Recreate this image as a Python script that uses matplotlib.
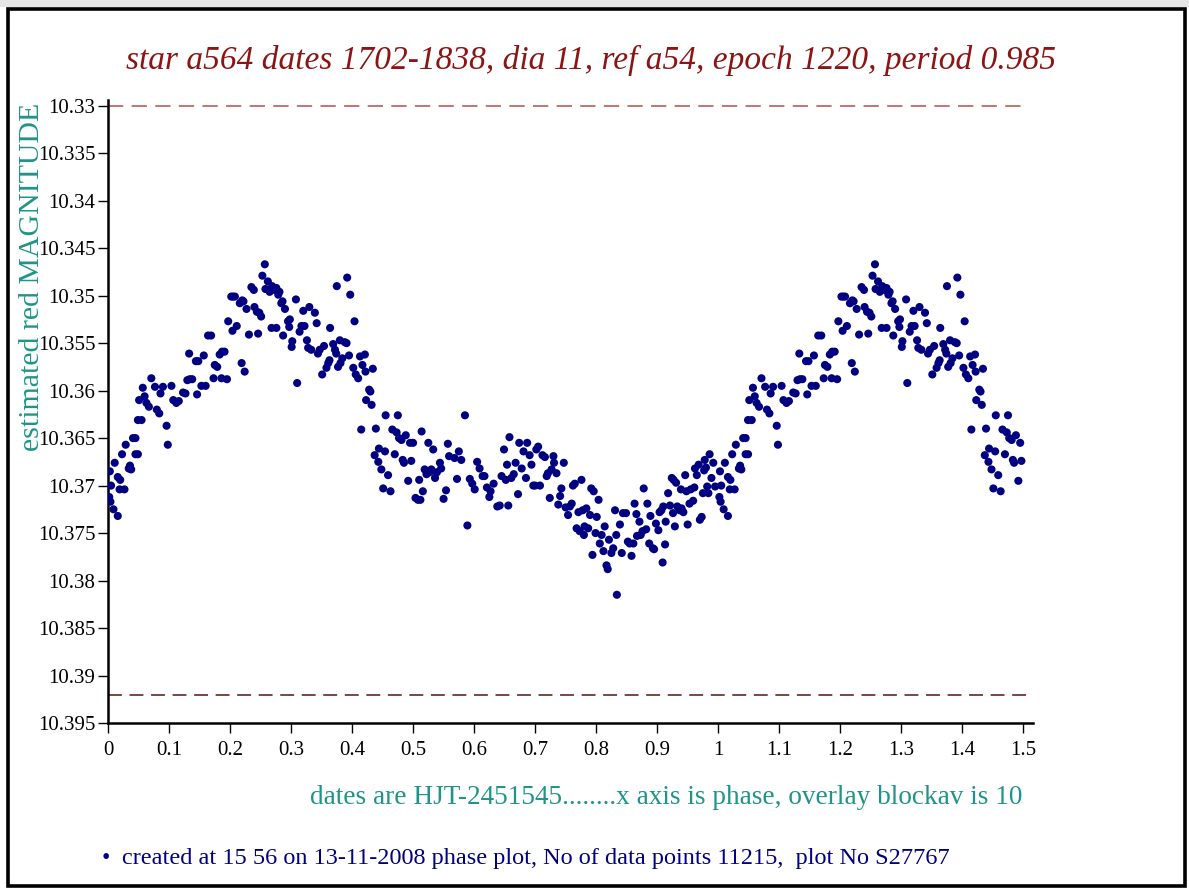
import matplotlib
matplotlib.use('Agg')
import matplotlib.pyplot as plt
from matplotlib.patches import Rectangle
import numpy as np

plt.rcParams['font.family'] = ['Liberation Serif', 'DejaVu Serif']
plt.rcParams['lines.scale_dashes'] = False

# phase / magnitude readings for one cycle (0..1)
phase = [
    0.002, 0.004, 0.009, 0.016, 0.005, 0.003, 0.011, 0.016, 0.020, 0.019, 0.027, 0.023, 0.029, 0.034,
    0.038, 0.036, 0.041, 0.045, 0.045, 0.049, 0.049, 0.055, 0.051, 0.057, 0.060, 0.063, 0.067, 0.071,
    0.077, 0.080, 0.084, 0.086, 0.090, 0.096, 0.098, 0.104, 0.107, 0.112, 0.116, 0.123, 0.127, 0.130,
    0.134, 0.138, 0.133, 0.144, 0.148, 0.146, 0.153, 0.157, 0.160, 0.164, 0.169, 0.175, 0.179, 0.173,
    0.183, 0.187, 0.191, 0.186, 0.195, 0.197, 0.202, 0.205, 0.208, 0.204, 0.211, 0.216, 0.220, 0.222,
    0.227, 0.219, 0.224, 0.231, 0.235, 0.239, 0.240, 0.244, 0.248, 0.246, 0.251, 0.253, 0.257, 0.258,
    0.262, 0.265, 0.269, 0.273, 0.276, 0.279, 0.281, 0.284, 0.286, 0.290, 0.268, 0.276, 0.287, 0.295,
    0.298, 0.297, 0.302, 0.301, 0.308, 0.310, 0.314, 0.317, 0.320, 0.322, 0.330, 0.326, 0.328, 0.333,
    0.339, 0.342, 0.344, 0.347, 0.351, 0.354, 0.358, 0.361, 0.363, 0.364, 0.369, 0.372, 0.374, 0.375,
    0.377, 0.380, 0.381, 0.384, 0.388, 0.391, 0.392, 0.395, 0.397, 0.402, 0.404, 0.406, 0.410, 0.413,
    0.415, 0.417, 0.421, 0.422, 0.423, 0.428, 0.432, 0.430, 0.434, 0.437, 0.439, 0.443, 0.444, 0.448,
    0.451, 0.454, 0.455, 0.459, 0.463, 0.466, 0.470, 0.473, 0.475, 0.477, 0.481, 0.483, 0.485, 0.488,
    0.492, 0.495, 0.497, 0.500, 0.504, 0.508, 0.510, 0.512, 0.514, 0.516, 0.519, 0.522, 0.525, 0.527,
    0.530, 0.533, 0.536, 0.539, 0.544, 0.546, 0.550, 0.554, 0.557, 0.559,
    0.568, 0.572, 0.575, 0.579, 0.585, 0.589, 0.593, 0.597, 0.601, 0.605, 0.609, 0.614, 0.617, 0.621,
    0.625, 0.627, 0.632, 0.638, 0.642, 0.645, 0.649, 0.652, 0.654, 0.656, 0.658, 0.661, 0.665, 0.668,
    0.672, 0.674, 0.678, 0.681, 0.685, 0.687, 0.691, 0.694, 0.697, 0.700, 0.702, 0.705, 0.708, 0.712,
    0.716, 0.719, 0.721, 0.724, 0.727, 0.730, 0.731, 0.735, 0.738, 0.741, 0.743, 0.747, 0.750, 0.754,
    0.757, 0.760, 0.762, 0.765, 0.768, 0.771, 0.773, 0.776, 0.778, 0.780, 0.781, 0.784, 0.787, 0.790,
    0.792, 0.794, 0.796, 0.799, 0.801, 0.804, 0.806, 0.809, 0.812, 0.814, 0.817, 0.819, 0.821, 0.825,
    0.828, 0.831, 0.833, 0.834, 0.839, 0.842, 0.844, 0.849, 0.852, 0.855, 0.858, 0.861, 0.863, 0.866,
    0.867, 0.871, 0.873, 0.876, 0.878, 0.882, 0.884, 0.887, 0.889, 0.893, 0.895, 0.898, 0.902, 0.904,
    0.907, 0.909, 0.910, 0.913, 0.914, 0.918, 0.921, 0.924, 0.926, 0.927, 0.929, 0.931, 0.933, 0.937,
    0.939, 0.940, 0.943, 0.946, 0.948, 0.950, 0.953, 0.955, 0.959, 0.961, 0.962, 0.965, 0.968, 0.970,
    0.973, 0.975, 0.977, 0.978, 0.980, 0.982, 0.984, 0.986, 0.989, 0.992, 0.995,
]
magnitude = [
    10.3712, 10.3717, 10.3725, 10.3732, 10.3700, 10.3685, 10.3676, 10.3691, 10.3694, 10.3704, 10.3704, 10.3667, 10.3657, 10.3682,
    10.3683, 10.3679, 10.3650, 10.3650, 10.3667, 10.3667, 10.3631, 10.3631, 10.3610, 10.3597, 10.3606, 10.3613, 10.3617, 10.3587,
    10.3596, 10.3620, 10.3624, 10.3603, 10.3596, 10.3637, 10.3657, 10.3595, 10.3610, 10.3613, 10.3611, 10.3602, 10.3603, 10.3589,
    10.3588, 10.3588, 10.3561, 10.3569, 10.3569, 10.3604, 10.3595, 10.3563, 10.3595, 10.3542, 10.3542, 10.3573, 10.3575, 10.3587,
    10.3562, 10.3559, 10.3559, 10.3587, 10.3588, 10.3527, 10.3501, 10.3501, 10.3501, 10.3537, 10.3532, 10.3508, 10.3505, 10.3506,
    10.3514, 10.3571, 10.3580, 10.3541, 10.3491, 10.3494, 10.3512, 10.3517, 10.3518, 10.3540, 10.3522, 10.3479, 10.3467, 10.3493,
    10.3485, 10.3496, 10.3490, 10.3494, 10.3492, 10.3499, 10.3496, 10.3508, 10.3506, 10.3514, 10.3534, 10.3534, 10.3542, 10.3527,
    10.3525, 10.3533, 10.3548, 10.3554, 10.3504, 10.3592, 10.3538, 10.3532, 10.3516, 10.3532, 10.3512, 10.3547, 10.3555, 10.3557,
    10.3518, 10.3529, 10.3561, 10.3557, 10.3583, 10.3553, 10.3576, 10.3571, 10.3568, 10.3534, 10.3551, 10.3557, 10.3561, 10.3490,
    10.3575, 10.3547, 10.3571, 10.3566, 10.3549, 10.3550, 10.3481, 10.3563, 10.3499, 10.3576, 10.3527, 10.3583, 10.3587, 10.3564,
    10.3641, 10.3573, 10.3562, 10.3580, 10.3610, 10.3599, 10.3615, 10.3601, 10.3577, 10.3668, 10.3640, 10.3675, 10.3661, 10.3683,
    10.3703, 10.3664, 10.3626, 10.3689, 10.3706, 10.3641, 10.3667, 10.3644, 10.3626, 10.3650, 10.3652, 10.3673, 10.3676, 10.3647,
    10.3695, 10.3655, 10.3674, 10.3655, 10.3713, 10.3715, 10.3694, 10.3715, 10.3643, 10.3706, 10.3683, 10.3688, 10.3655, 10.3686,
    10.3683, 10.3662, 10.3692, 10.3686, 10.3676, 10.3682, 10.3714, 10.3705, 10.3656, 10.3669,
    10.3671, 10.3693, 10.3664, 10.3673, 10.3626, 10.3742, 10.3693, 10.3698, 10.3704, 10.3675, 10.3682, 10.3690, 10.3690, 10.3702,
    10.3712, 10.3706, 10.3698, 10.3722, 10.3721, 10.3690, 10.3662, 10.3694, 10.3678, 10.3721, 10.3649, 10.3692, 10.3688, 10.3676,
    10.3709, 10.3655, 10.3682, 10.3664, 10.3692, 10.3655, 10.3668, 10.3678, 10.3700, 10.3700, 10.3662, 10.3659, 10.3700, 10.3668,
    10.3670, 10.3690, 10.3687, 10.3713, 10.3683, 10.3669, 10.3676, 10.3687, 10.3720, 10.3711, 10.3703, 10.3676, 10.3723, 10.3731,
    10.3722, 10.3719, 10.3700, 10.3698, 10.3745, 10.3728, 10.3748, 10.3694, 10.3726, 10.3752, 10.3743, 10.3724, 10.3745, 10.3731,
    10.3703, 10.3773, 10.3706, 10.3750, 10.3733, 10.3715, 10.3761, 10.3752, 10.3769, 10.3743, 10.3784, 10.3788, 10.3757, 10.3771,
    10.3766, 10.3726, 10.3752, 10.3815, 10.3741, 10.3771, 10.3729, 10.3729, 10.3759, 10.3761, 10.3774, 10.3761, 10.3719, 10.3730,
    10.3753, 10.3738, 10.3752, 10.3748, 10.3703, 10.3746, 10.3719, 10.3761, 10.3732, 10.3766, 10.3767, 10.3740, 10.3747, 10.3728,
    10.3726, 10.3781, 10.3722, 10.3762, 10.3738, 10.3708, 10.3721, 10.3692, 10.3729, 10.3694, 10.3743, 10.3697, 10.3722, 10.3726,
    10.3704, 10.3724, 10.3728, 10.3689, 10.3706, 10.3741, 10.3719, 10.3704, 10.3716, 10.3702, 10.3682, 10.3689, 10.3678, 10.3736,
    10.3733, 10.3708, 10.3684, 10.3673, 10.3681, 10.3701, 10.3708, 10.3667, 10.3692, 10.3676, 10.3701,
]

upper_limit = 10.33
lower_limit = 10.392

x_ticks = [0, 0.1, 0.2, 0.3, 0.4, 0.5, 0.6, 0.7, 0.8, 0.9, 1.0, 1.1, 1.2, 1.3, 1.4, 1.5]
x_tick_labels = ['0', '0.1', '0.2', '0.3', '0.4', '0.5', '0.6', '0.7', '0.8', '0.9',
                 '1', '1.1', '1.2', '1.3', '1.4', '1.5']
y_ticks = [10.33, 10.335, 10.34, 10.345, 10.35, 10.355, 10.36, 10.365, 10.37,
           10.375, 10.38, 10.385, 10.39, 10.395]
y_tick_labels = ['10.33', '10.335', '10.34', '10.345', '10.35', '10.355', '10.36', '10.365',
                 '10.37', '10.375', '10.38', '10.385', '10.39', '10.395']

title = 'star a564 dates 1702-1838, dia 11, ref a54, epoch 1220, period 0.985'
ylabel = 'estimated red MAGNITUDE'
xlabel = 'dates are HJT-2451545........x axis is phase, overlay blockav is 10'
footer = 'created at 15 56 on 13-11-2008 phase plot, No of data points 11215,  plot No S27767'

# phase plot shows 1.5 cycles: repeat the first half cycle
phase = np.array(phase)
magnitude = np.array(magnitude)
rep = phase < 0.5
px = np.concatenate([phase, phase[rep] + 1])
py = np.concatenate([magnitude, magnitude[rep]])

W, H = 1189, 888
fig = plt.figure(figsize=(W / 100, H / 100), dpi=100)
ax = fig.add_axes([108 / W, 1 - 723 / H, (1033 - 108) / W, (723 - 100) / H])

navy = '#000080'
teal = '#1f9488'
red = '#8b1414'

ax.scatter(px, py, s=34, color=navy, edgecolors='none', zorder=3)

ax.hlines(upper_limit, 0, 1.5, color='#c06868', lw=1.3, linestyles=(0, (11, 6)))
ax.hlines(lower_limit, 0, 1.514, color='#5a1414', lw=1.1, linestyles=(0, (10, 5.5)))

ax.set_xlim(0, 1.516)
ax.set_ylim(10.395, 10.3294)
ax.set_xticks(x_ticks)
ax.set_xticklabels(x_tick_labels)
ax.set_yticks(y_ticks)
ax.set_yticklabels(y_tick_labels)
ax.tick_params(direction='out', length=7, width=1, labelsize=15, colors='black')
ax.tick_params(axis='y', pad=2)
ax.tick_params(axis='x', pad=6)
for s in ['top', 'right']:
    ax.spines[s].set_visible(False)
for s in ['left', 'bottom']:
    ax.spines[s].set_linewidth(1.8)

fig.text(591 / W, 1 - 60 / H, title, color=red, style='italic', fontsize=24,
         ha='center', va='center')
fig.text(32 / W, 1 - 277 / H, ylabel, color=teal, fontsize=21.5, rotation=90,
         ha='center', va='center')
fig.text(1022 / W, 1 - 797 / H, xlabel, color=teal, fontsize=19.6, ha='right', va='center')
fig.text(106 / W, 1 - 858 / H, '\u2022', color=navy, fontsize=17, ha='center', va='center')
fig.text(122 / W, 1 - 858 / H, footer, color=navy, fontsize=17.5, ha='left', va='center')

# outer frame
fig.patches.append(Rectangle((0, 1 - 7 / H), 1, 7 / H, transform=fig.transFigure,
                             facecolor='#e6e6e6', edgecolor='none'))
fig.patches.append(Rectangle((8 / W, 1 - 886 / H), (1185 - 8) / W, (886 - 9) / H,
                             transform=fig.transFigure, facecolor='none',
                             edgecolor='black', lw=2.6))

fig.savefig('out.png', dpi=100)
